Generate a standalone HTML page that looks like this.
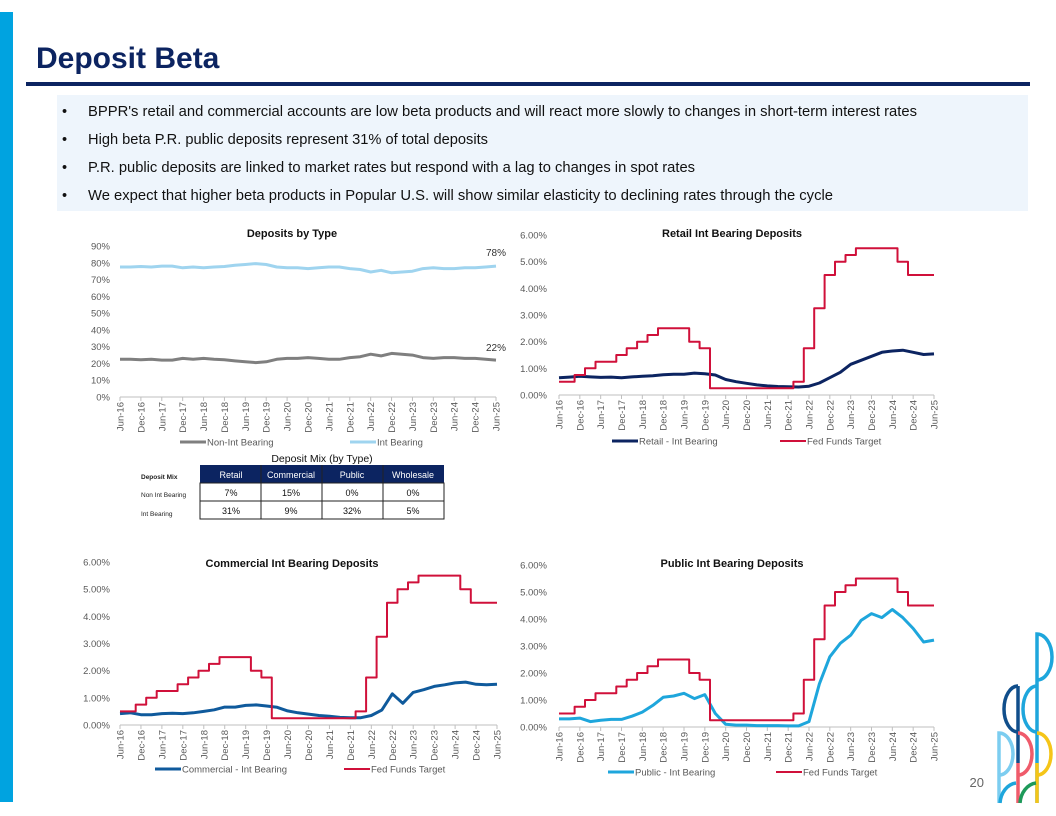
<!DOCTYPE html>
<html><head><meta charset="utf-8"><style>
html,body{margin:0;padding:0;background:#fff;}
svg{display:block;font-family:"Liberation Sans",sans-serif;}
</style></head><body>
<svg id="page" width="1056" height="816" viewBox="0 0 1056 816">
<rect x="0" y="12" width="13" height="790" fill="#00a3e0"/>
<text x="36" y="68" font-size="30" font-weight="bold" fill="#0c2461">Deposit Beta</text>
<rect x="26" y="82" width="1004" height="4" fill="#0c2461"/>
<rect x="57" y="95" width="971" height="116" fill="#eef5fc"/>
<g font-size="14.5" fill="#111">
<text x="62" y="116">•</text><text x="88" y="116" textLength="829" lengthAdjust="spacingAndGlyphs">BPPR's retail and commercial accounts are low beta products and will react more slowly to changes in short-term interest rates</text>
<text x="62" y="144">•</text><text x="88" y="144" textLength="400" lengthAdjust="spacingAndGlyphs">High beta P.R. public deposits represent 31% of total deposits</text>
<text x="62" y="172">•</text><text x="88" y="172" textLength="607" lengthAdjust="spacingAndGlyphs">P.R. public deposits are linked to market rates but respond with a lag to changes in spot rates</text>
<text x="62" y="200">•</text><text x="88" y="200" textLength="745" lengthAdjust="spacingAndGlyphs">We expect that higher beta products in Popular U.S. will show similar elasticity to declining rates through the cycle</text>
</g>
<g id="charts"></g>
<g font-size="9">
<text x="322" y="462" text-anchor="middle" font-size="10.5" fill="#111">Deposit Mix (by Type)</text>
<rect x="200" y="465" width="244" height="18" fill="#0c2461"/>
<g fill="#fff" text-anchor="middle">
<text x="231" y="478">Retail</text><text x="291" y="478">Commercial</text><text x="352" y="478">Public</text><text x="413" y="478">Wholesale</text></g>
<rect x="200" y="483" width="244" height="36" fill="#fff" stroke="#222" stroke-width="1"/>
<line x1="200" y1="501" x2="444" y2="501" stroke="#222"/>
<line x1="261" y1="465" x2="261" y2="519" stroke="#222"/><line x1="322" y1="465" x2="322" y2="519" stroke="#222"/><line x1="383" y1="465" x2="383" y2="519" stroke="#222"/>
<g fill="#111" text-anchor="middle">
<text x="231" y="496">7%</text><text x="291" y="496">15%</text><text x="352" y="496">0%</text><text x="413" y="496">0%</text>
<text x="231" y="514">31%</text><text x="291" y="514">9%</text><text x="352" y="514">32%</text><text x="413" y="514">5%</text></g>
<g font-size="6.5" fill="#222"><text x="141" y="479" font-weight="bold">Deposit Mix</text><text x="141" y="497">Non Int Bearing</text><text x="141" y="516">Int Bearing</text></g>
</g>
<text x="984" y="787" text-anchor="end" font-size="13" fill="#666">20</text>
<g fill="none" stroke-width="3.5">
<path d="M999 803 V733 A14 21 0 0 1 999 775" stroke="#7ccdf0"/>
<path d="M1037 803 V634 A15 23 0 0 1 1037 680" stroke="#1ea6dc"/>
<path d="M1037 686 A14 23 0 0 0 1037 732" stroke="#1ea6dc"/>
<path d="M1018 686 A14 23 0 0 0 1018 732" stroke="#104e8b"/>
<path d="M1018 686 V763" stroke="#104e8b"/>
<path d="M1018 763 V803 M1018 733 A14 21 0 0 1 1018 775" stroke="#ef5b6b"/>
<path d="M1037 733 A14 21 0 0 1 1037 775 M1037 763 V803" stroke="#f5c518"/>
<path d="M1000 803 A18 22 0 0 1 1016 783" stroke="#1ea6dc"/>
<path d="M1020 803 A18 22 0 0 1 1036 783" stroke="#1e9a5a"/>
</g>
</svg>
<script>
const xLabels=["Jun-16","Dec-16","Jun-17","Dec-17","Jun-18","Dec-18","Jun-19","Dec-19","Jun-20","Dec-20","Jun-21","Dec-21","Jun-22","Dec-22","Jun-23","Dec-23","Jun-24","Dec-24","Jun-25"];
const intBearing=[77.5,77.5,77.8,77.5,78,78,77,77.5,77,77.5,77.8,78.5,79,79.5,79,77.5,77,77,76.5,77,77.5,77.5,76.5,76,74.5,75.5,74,74.5,75,76.5,77,76.5,76.5,77,77,77.5,78];
const nonIntBearing=[22.5,22.5,22.2,22.5,22,22,23,22.5,23,22.5,22.2,21.5,21,20.5,21,22.5,23,23,23.5,23,22.5,22.5,23.5,24,25.5,24.5,26,25.5,25,23.5,23,23.5,23.5,23,23,22.5,22];
const fedFunds=[0.5,0.5,0.75,1.0,1.25,1.25,1.5,1.75,2.0,2.25,2.5,2.5,2.5,2.0,1.75,0.25,0.25,0.25,0.25,0.25,0.25,0.25,0.25,0.5,1.75,3.25,4.5,5.0,5.25,5.5,5.5,5.5,5.5,5.0,4.5,4.5,4.5];
const retailRate=[0.65,0.67,0.7,0.68,0.66,0.67,0.65,0.68,0.7,0.72,0.76,0.78,0.78,0.82,0.8,0.75,0.58,0.5,0.44,0.38,0.34,0.32,0.31,0.3,0.33,0.45,0.65,0.85,1.15,1.3,1.45,1.6,1.65,1.68,1.6,1.52,1.54];
const commercialRate=[0.42,0.45,0.38,0.38,0.42,0.43,0.42,0.45,0.5,0.56,0.66,0.66,0.72,0.74,0.7,0.65,0.52,0.45,0.4,0.35,0.32,0.28,0.27,0.27,0.35,0.55,1.15,0.8,1.2,1.3,1.42,1.48,1.55,1.58,1.5,1.48,1.5];
const publicRate=[0.3,0.3,0.33,0.2,0.25,0.28,0.28,0.4,0.55,0.8,1.1,1.15,1.25,1.05,1.2,0.5,0.1,0.07,0.07,0.05,0.05,0.05,0.04,0.04,0.2,1.6,2.6,3.1,3.4,3.95,4.2,4.05,4.35,4.05,3.65,3.15,3.22];
const pctTicks=["0%","10%","20%","30%","40%","50%","60%","70%","80%","90%"];
const rateTicks=["0.00%","1.00%","2.00%","3.00%","4.00%","5.00%","6.00%"];

const NS="http://www.w3.org/2000/svg";
const root=document.getElementById('charts');
function mk(tag,attrs,parent){const e=document.createElementNS(NS,tag);for(const k in attrs)e.setAttribute(k,attrs[k]);(parent||root).appendChild(e);return e;}

function chart(cfg){
  const g=mk('g',{});
  
  
  const n=cfg.series[0].values.length;
  const xs=i=>cfg.x0+(cfg.x1-cfg.x0)*i/(n-1);
  const ys=v=>cfg.y0-(cfg.y0-cfg.y1)*(v-cfg.vmin)/(cfg.vmax-cfg.vmin);
  const t=mk('text',{x:cfg.tx,y:cfg.ty,'text-anchor':'middle','font-size':11,'font-weight':'bold',fill:'#111'},g);
  t.textContent=cfg.title;
  
  
  cfg.ticks.forEach((lab,i)=>{
    const v=cfg.vmin+(cfg.vmax-cfg.vmin)*i/(cfg.ticks.length-1);
    const yt=mk('text',{x:cfg.x0-cfg.lblOff,y:ys(v)+3.5,'text-anchor':'end','font-size':9.5,fill:'#595959'},g);
    yt.textContent=lab;
    
    
  });
  mk('line',{x1:cfg.x0,y1:cfg.y0,x2:cfg.x1,y2:cfg.y0,stroke:'#bfbfbf'},g);
  xLabels.forEach((lab,j)=>{
    const x=xs(j*2);
    mk('line',{x1:x,y1:cfg.y0,x2:x,y2:cfg.y0+4,stroke:'#bfbfbf'},g);
    const xt=mk('text',{transform:`translate(${x+3.5},${cfg.y0+5}) rotate(-90)`,'text-anchor':'end','font-size':9.5,fill:'#595959'},g);
    xt.textContent=lab;
    
    
  });
  cfg.series.forEach(s=>{
    let d;
    if(s.step){
      d='M'+xs(0).toFixed(1)+','+ys(s.values[0]).toFixed(1);
      s.values.forEach((v,i)=>{ if(i>0){ const xm=(xs(i-1)+xs(i))/2; d+=' H'+xm.toFixed(1)+' V'+ys(v).toFixed(1);} });
      d+=' H'+xs(n-1).toFixed(1);
    } else {
      d='M'+s.values.map((v,i)=>xs(i).toFixed(1)+','+ys(v).toFixed(1)).join(' L');
    }
    const p=mk('path',{d:d,fill:'none',stroke:s.color,'stroke-width':s.w,'stroke-linejoin':'round'},g);
    
    
    mk('line',{x1:s.lx,y1:cfg.ly,x2:s.lx+26,y2:cfg.ly,stroke:s.color,'stroke-width':s.w},g);
    const lt=mk('text',{x:s.lx+27,y:cfg.ly+3.5,'font-size':9.5,fill:'#595959'},g);
    lt.textContent=s.label;
    
    
  });
  (cfg.endLabels||[]).forEach(e=>{
    const et=mk('text',{x:cfg.x1-10,y:e.y,'font-size':10,fill:'#333'},g);
    et.textContent=e.t;
    
    
  });
}
chart({name:'deposits-by-type-chart',title:'Deposits by Type',tx:292,ty:237,x0:120,x1:496,y0:397,y1:246,vmin:0,vmax:90,ticks:pctTicks,lblOff:10,ly:442,
  series:[{id:'non-int-bearing-line',label:'Non-Int Bearing',values:nonIntBearing,color:'#7f7f7f',w:3,lx:180},{id:'int-bearing-line',label:'Int Bearing',values:intBearing,color:'#9fd4ef',w:3,lx:350}],
  endLabels:[{t:String(intBearing[intBearing.length-1])+'%',y:256},{t:String(nonIntBearing[nonIntBearing.length-1])+'%',y:351}]});
chart({name:'retail-int-bearing-chart',title:'Retail Int Bearing Deposits',tx:732,ty:237,x0:559,x1:934,y0:395,y1:235,vmin:0,vmax:6,ticks:rateTicks,lblOff:12,ly:441,
  series:[{id:'retail-rate-line',label:'Retail - Int Bearing',values:retailRate,color:'#0c2461',w:3,lx:612},{id:'fed-funds-line',label:'Fed Funds Target',values:fedFunds,color:'#d0103a',w:2,lx:780,step:true}]});
chart({name:'commercial-int-bearing-chart',title:'Commercial Int Bearing Deposits',tx:292,ty:567,x0:120,x1:497,y0:725,y1:562,vmin:0,vmax:6,ticks:rateTicks,lblOff:10,ly:769,
  series:[{id:'commercial-rate-line',label:'Commercial - Int Bearing',values:commercialRate,color:'#0f5a9c',w:3,lx:155},{id:'fed-funds-line',label:'Fed Funds Target',values:fedFunds,color:'#d0103a',w:2,lx:344,step:true}]});
chart({name:'public-int-bearing-chart',title:'Public Int Bearing Deposits',tx:732,ty:567,x0:559,x1:934,y0:727,y1:565,vmin:0,vmax:6,ticks:rateTicks,lblOff:12,ly:772,
  series:[{id:'public-rate-line',label:'Public - Int Bearing',values:publicRate,color:'#1ea6dc',w:3,lx:608},{id:'fed-funds-line',label:'Fed Funds Target',values:fedFunds,color:'#d0103a',w:2,lx:776,step:true}]});
</script>
</body></html>
